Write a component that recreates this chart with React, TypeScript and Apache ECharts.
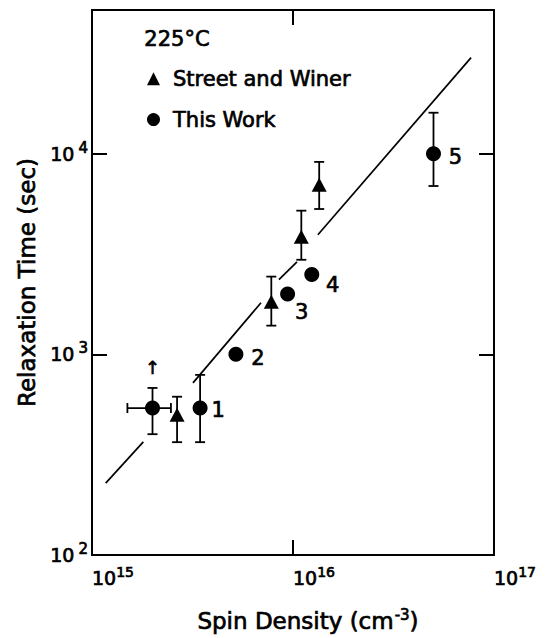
import React, { useEffect, useRef } from 'react';
import * as echarts from 'echarts';

// ---- data ----
const circleX = [2.0e15, 3.45e15, 5.2e15, 9.4e15, 1.24e16, 5.0e16];
const circleY = [540, 540, 1000, 2000, 2500, 10000];
const circleYLow = [400, 365, null, null, null, 6900];
const circleYHigh = [680, 790, null, null, null, 16000];
const circleLabels = ['↑', '1', '2', '3', '4', '5'];
const circleXErrIndex = [0];
const circleXLow = [1.5e15];
const circleXHigh = [2.47e15];

const triangleX = [2.65e15, 7.8e15, 1.1e16, 1.35e16];
const triangleY = [500, 1830, 3850, 7000];
const triangleYLow = [365, 1390, 2960, 5300];
const triangleYHigh = [615, 2440, 5200, 9100];

// fitted line, drawn in pieces (gaps where it meets the points)
const fitSegmentX = [
  [1.17e15, 1.8e15],
  [3.18e15, 6.93e15],
  [8.51e15, 1.047e16],
  [1.33e16, 7.69e16],
];
const fitSegmentY = [
  [228, 366],
  [721, 1807],
  [2355, 2890],
  [3945, 30100],
];

const xMin = 1e15;
const xMax = 1e17;
const yMin = 100;
const yMax = 52000;

const seriesNames = ['Street and Winer', 'This Work'];
const titleText = '225°C';
const xTitle = 'Spin Density';
const yTitle = 'Relaxation Time (sec)';

// label offsets (style)
const labelOffsets = [
  [0, -41],
  [18, 2],
  [22, 4],
  [14, 18],
  [21, 11],
  [22, 3],
];

const FONT = 'DejaVu Sans';
// slight outline to thicken strokes like the printed original
const INK = { color: '#000', textBorderColor: '#000', textBorderWidth: 0.7, fontFamily: FONT };

function powLabel(v: number) {
  const l = Math.log10(v);
  const e = Math.round(l);
  if (Math.abs(l - e) > 1e-6) return '';
  return `10{s|${e}}`;
}

export default function App() {
  const ref = useRef<HTMLDivElement>(null);
  useEffect(() => {
    if (!ref.current) return;
    const chart = echarts.init(ref.current, null, { renderer: 'svg' });

    const errStyle = { stroke: '#000', lineWidth: 1.8 };
    const yErrData: number[][] = [];
    circleX.forEach((x, i) => {
      if (circleYLow[i] != null && circleYHigh[i] != null) {
        yErrData.push([x, circleYLow[i] as number, circleYHigh[i] as number]);
      }
    });
    triangleX.forEach((x, i) => {
      yErrData.push([x, triangleYLow[i], triangleYHigh[i]]);
    });
    const xErrData = circleXErrIndex.map((idx, k) => [circleXLow[k], circleXHigh[k], circleY[idx]]);

    const fitSeries = fitSegmentX.map((seg, i) => ({
      type: 'line',
      silent: true,
      symbol: 'none',
      data: [
        [seg[0], fitSegmentY[i][0]],
        [seg[1], fitSegmentY[i][1]],
      ],
      lineStyle: { color: '#000', width: 1.7 },
      z: 1,
    }));

    const richX = {
      s: { fontSize: 14, ...INK, padding: [0, 0, 12, 0] },
    };
    const richY = {
      s: { fontSize: 15, ...INK, padding: [0, 0, 12, 4] },
    };

    chart.setOption({
      animation: false,
      backgroundColor: '#fff',
      grid: {
        left: 92,
        right: 53,
        top: 10,
        bottom: 83,
        show: true,
        borderColor: '#000',
        borderWidth: 2,
        backgroundColor: 'transparent',
      },
      legend: {
        orient: 'vertical',
        left: 142,
        top: 63,
        itemGap: 19,
        itemWidth: 13,
        itemHeight: 13,
        selectedMode: false,
        data: [
          { name: seriesNames[0], icon: 'triangle', itemStyle: { color: '#000', opacity: 1 } },
          { name: seriesNames[1], icon: 'circle', itemStyle: { color: '#000', opacity: 1 } },
        ],
        textStyle: { fontSize: 21, ...INK, padding: [0, 0, 0, 8] },
      },
      graphic: [
        {
          type: 'text',
          left: 144,
          top: 28,
          style: { text: titleText, fontSize: 21, fontFamily: FONT, fill: '#000', stroke: '#000', lineWidth: 0.7 },
        },
      ],
      xAxis: [
        {
          type: 'log',
          logBase: 10,
          min: xMin,
          max: xMax,
          interval: 1,
          position: 'bottom',
          axisLine: { show: true, lineStyle: { color: '#000', width: 2 } },
          axisTick: { show: true, inside: true, length: 15, lineStyle: { color: '#000', width: 2 } },
          splitLine: { show: false },
          axisLabel: {
            formatter: powLabel,
            rich: richX,
            fontSize: 19,
            ...INK,
            align: 'left',
            margin: 10,
          },
          name: `{t|${xTitle} (cm}{s|-3}{t|)}`,
          nameLocation: 'middle',
          nameGap: 52,
          nameTextStyle: {
            padding: [0, 0, 0, 30],
            fontSize: 23,
            ...INK,
            rich: {
              t: { fontSize: 23, ...INK },
              s: { fontSize: 15, ...INK, padding: [0, 0, 13, 1] },
            },
          },
        },
        {
          type: 'log',
          logBase: 10,
          min: xMin,
          max: xMax,
          interval: 1,
          position: 'top',
          axisLine: { show: true, lineStyle: { color: '#000', width: 2 } },
          axisTick: { show: true, inside: true, length: 15, lineStyle: { color: '#000', width: 2 } },
          splitLine: { show: false },
          axisLabel: { show: false },
        },
      ],
      yAxis: [
        {
          type: 'log',
          logBase: 10,
          min: yMin,
          max: yMax,
          interval: 1,
          position: 'left',
          axisLine: { show: true, lineStyle: { color: '#000', width: 2 } },
          axisTick: { show: true, inside: true, length: 15, lineStyle: { color: '#000', width: 2 } },
          splitLine: { show: false },
          axisLabel: { formatter: powLabel, rich: richY, fontSize: 19, ...INK, margin: 4 },
          name: yTitle,
          nameLocation: 'middle',
          nameGap: 47,
          nameTextStyle: { fontSize: 23, ...INK },
        },
        {
          type: 'log',
          logBase: 10,
          min: yMin,
          max: yMax,
          interval: 1,
          position: 'right',
          axisLine: { show: true, lineStyle: { color: '#000', width: 2 } },
          axisTick: { show: true, inside: true, length: 15, lineStyle: { color: '#000', width: 2 } },
          splitLine: { show: false },
          axisLabel: { show: false },
        },
      ],
      series: [
        ...fitSeries,
        {
          type: 'custom',
          silent: true,
          z: 2,
          data: yErrData,
          encode: { x: 0, y: [1, 2] },
          renderItem: (params: any, api: any) => {
            const x = api.value(0);
            const lo = api.coord([x, api.value(1)]);
            const hi = api.coord([x, api.value(2)]);
            const w = 5;
            return {
              type: 'group',
              children: [
                { type: 'line', shape: { x1: lo[0], y1: lo[1], x2: hi[0], y2: hi[1] }, style: errStyle },
                { type: 'line', shape: { x1: lo[0] - w, y1: lo[1], x2: lo[0] + w, y2: lo[1] }, style: errStyle },
                { type: 'line', shape: { x1: hi[0] - w, y1: hi[1], x2: hi[0] + w, y2: hi[1] }, style: errStyle },
              ],
            };
          },
        },
        {
          type: 'custom',
          silent: true,
          z: 2,
          data: xErrData,
          encode: { x: [0, 1], y: 2 },
          renderItem: (params: any, api: any) => {
            const y = api.value(2);
            const lo = api.coord([api.value(0), y]);
            const hi = api.coord([api.value(1), y]);
            const h = 5;
            return {
              type: 'group',
              children: [
                { type: 'line', shape: { x1: lo[0], y1: lo[1], x2: hi[0], y2: hi[1] }, style: errStyle },
                { type: 'line', shape: { x1: lo[0], y1: lo[1] - h, x2: lo[0], y2: lo[1] + h }, style: errStyle },
                { type: 'line', shape: { x1: hi[0], y1: hi[1] - h, x2: hi[0], y2: hi[1] + h }, style: errStyle },
              ],
            };
          },
        },
        {
          name: seriesNames[0],
          type: 'scatter',
          symbol: 'triangle',
          symbolSize: [15, 14],
          itemStyle: { color: '#000', opacity: 1 },
          z: 3,
          data: triangleX.map((x, i) => [x, triangleY[i]]),
        },
        {
          name: seriesNames[1],
          type: 'scatter',
          symbol: 'circle',
          symbolSize: 15,
          itemStyle: { color: '#000', opacity: 1 },
          z: 3,
          data: circleX.map((x, i) => ({
            value: [x, circleY[i]],
            label: {
              show: true,
              position: 'inside',
              formatter: circleLabels[i],
              offset: labelOffsets[i],
              fontSize: i === 0 ? 18 : 21,
              ...INK,
            },
          })),
        },
      ],
    });
    return () => chart.dispose();
  }, []);
  return (
    <div
      ref={ref}
      style={{ position: 'absolute', left: 0, top: 0, width: 547, height: 638, background: '#fff' }}
    />
  );
}
